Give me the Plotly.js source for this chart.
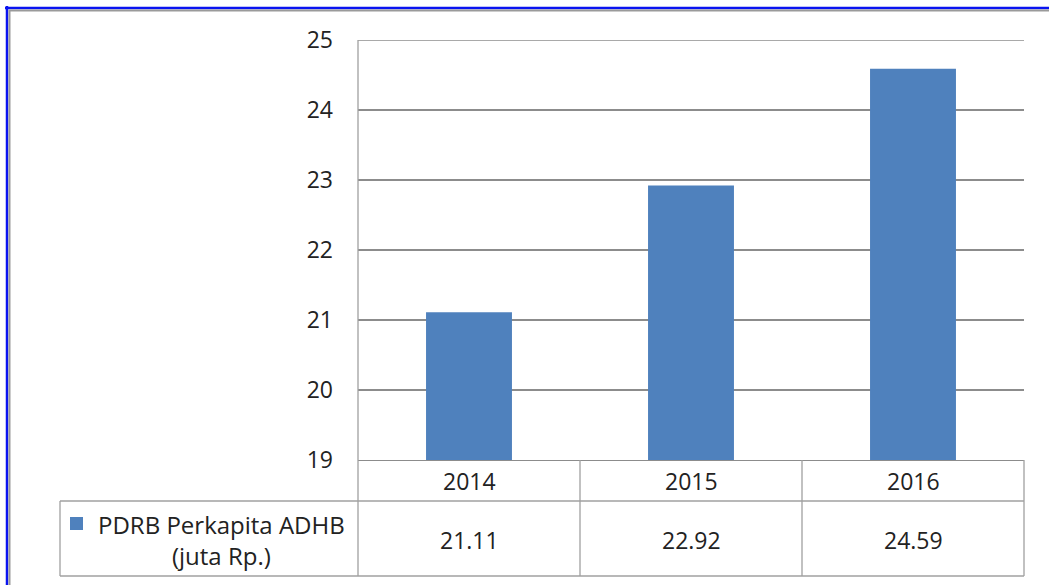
<!DOCTYPE html>
<html>
<head>
<meta charset="utf-8">
<script src="https://cdn.plot.ly/plotly-3.0.1.min.js"></script>
<style>html,body{margin:0;padding:0;background:#fff;}#chart{width:1049px;height:585px;}</style>
</head>
<body>
<div id="chart"></div>
<script>
const years = ['2014', '2015', '2016'];
const values = [21.11, 22.92, 24.59];
const seriesName = 'PDRB Perkapita ADHB<br>(juta Rp.)';
const yTicks = [19, 20, 21, 22, 23, 24, 25];

// geometry helpers (pixel -> paper)
const L = 358, R = 1024, T = 40, B = 460, W = 1049, H = 585;
const px = x => (x - L) / (R - L);
const py = y => (B - y) / (B - T);

const gridCol = '#8c8c8c';
const tableCol = '#a0a0a0';
const fontFam = 'Open Sans, Noto Sans, sans-serif';
const txtCol = '#222222';
const fs = 23;

const shapes = [];
// outer frame (blue + gray inner)
shapes.push({type:'line', xref:'paper', yref:'paper', x0:px(5), x1:px(1060), y0:py(8), y1:py(8), line:{color:'#0a14f0', width:2.5}});
shapes.push({type:'line', xref:'paper', yref:'paper', x0:px(7), x1:px(7), y0:py(6), y1:py(600), line:{color:'#0a14f0', width:2.5}});
shapes.push({type:'line', xref:'paper', yref:'paper', x0:px(9), x1:px(1060), y0:py(10.5), y1:py(10.5), line:{color:'#9a9a9a', width:2}});
shapes.push({type:'line', xref:'paper', yref:'paper', x0:px(9.5), x1:px(9.5), y0:py(10), y1:py(600), line:{color:'#9a9a9a', width:2}});

// top gridline (at range max)
shapes.push({type:'line', xref:'paper', yref:'y', x0:0, x1:1, y0:yTicks[yTicks.length - 1], y1:yTicks[yTicks.length - 1], line:{color:gridCol, width:1.3}});

// data table
const rowMid = 501, rowBot = 576, leftEdge = 60;
shapes.push({type:'line', xref:'paper', yref:'paper', x0:0, x1:0, y0:py(T), y1:py(rowBot), line:{color:tableCol, width:1.3}});
shapes.push({type:'line', xref:'paper', yref:'paper', x0:1, x1:1, y0:py(B), y1:py(rowBot), line:{color:tableCol, width:1.3}});
shapes.push({type:'line', xref:'paper', yref:'paper', x0:px(leftEdge), x1:1, y0:py(rowMid), y1:py(rowMid), line:{color:tableCol, width:1.3}});
shapes.push({type:'line', xref:'paper', yref:'paper', x0:px(leftEdge), x1:1, y0:py(rowBot), y1:py(rowBot), line:{color:tableCol, width:1.3}});
shapes.push({type:'line', xref:'paper', yref:'paper', x0:px(leftEdge), x1:px(leftEdge), y0:py(rowMid), y1:py(rowBot), line:{color:tableCol, width:1.3}});
for (let i = 0; i < years.length - 1; i++) {
  shapes.push({type:'line', xref:'x', yref:'paper', x0:i + 0.5, x1:i + 0.5, y0:py(B), y1:py(rowBot), line:{color:tableCol, width:1.3}});
}
// legend key
shapes.push({type:'rect', xref:'paper', yref:'paper', x0:px(70), x1:px(83), y0:py(517), y1:py(530), fillcolor:'#4F81BD', line:{width:0}});

const annotations = [];
years.forEach((yr, i) => {
  annotations.push({x:i, xref:'x', y:py(481), yref:'paper', text:yr, showarrow:false, xanchor:'center', yanchor:'middle', font:{family:fontFam, size:fs, color:txtCol}});
  annotations.push({x:i, xref:'x', y:py(540), yref:'paper', text:values[i].toFixed(2), showarrow:false, xanchor:'center', yanchor:'middle', font:{family:fontFam, size:fs, color:txtCol}});
});
annotations.push({x:px(221), xref:'paper', y:py(540), yref:'paper', text:seriesName, showarrow:false, xanchor:'center', yanchor:'middle', align:'center', font:{family:fontFam, size:24, color:txtCol}});

const trace = {
  type:'bar', x:years, y:values, name:'PDRB Perkapita ADHB (juta Rp.)',
  marker:{color:'#4F81BD', line:{width:0}}, hoverinfo:'x+y'
};

const layout = {
  width:W, height:H,
  margin:{l:L, r:W - R, t:T, b:H - B, pad:0},
  paper_bgcolor:'#fff', plot_bgcolor:'#fff',
  showlegend:false,
  bargap:0.613,
  xaxis:{type:'category', range:[-0.5, 2.5], showticklabels:false, ticks:'', showgrid:false, zeroline:false,
         showline:true, linecolor:gridCol, linewidth:1.3, fixedrange:true},
  yaxis:{range:[19, 25], tickvals:yTicks, ticktext:yTicks.map(String), showgrid:true, gridcolor:gridCol, gridwidth:1.3,
         zeroline:false, showline:false, ticks:'', ticklabelstandoff:24,
         tickfont:{family:fontFam, size:fs, color:txtCol}, fixedrange:true},
  shapes:shapes, annotations:annotations,
  font:{family:fontFam}
};

Plotly.newPlot('chart', [trace], layout, {displayModeBar:false, staticPlot:true});
</script>
</body>
</html>
